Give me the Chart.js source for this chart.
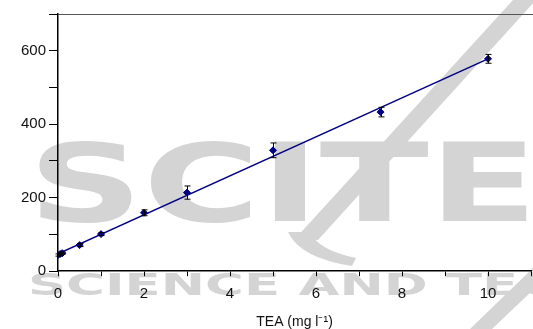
<!DOCTYPE html>
<html lang="en">
<head>
  <meta charset="UTF-8" />
  <title>TEA calibration</title>
  <script src="https://cdn.jsdelivr.net/npm/chart.js"></script>
  <style>
    body {
      margin: 0;
      overflow: hidden;
      background: #fff;
    }
  </style>
</head>
<body>
  <canvas id="teaChart" width="540" height="329"></canvas>

  <script>
    // dati
    const teaConc = [0, 0.05, 0.1, 0.5, 1, 2, 3, 5, 7.5, 10];
    const signal = [44, 47, 49, 71, 101, 159, 214, 329, 433, 578];
    const signalErr = [3, 3, 3, 4, 4, 8, 18, 20, 13, 12];
    const fitX = [0, 10];
    const fitY = [47, 578];
    const xTickLabels = [0, 2, 4, 6, 8, 10];
    const yTickLabels = [0, 200, 400, 600];

    const navy = "#000080";
    const wmGray = "#d4d4d4";

    // testo allargato per il filigrana
    function stretchText(c, text, x, base, cap, width, weight) {
      const size = cap / 0.73;
      c.font = weight + " " + size + "px 'DejaVu Sans'";
      const w = c.measureText(text).width;
      c.save();
      c.translate(x, base);
      c.scale(width / w, 1);
      c.fillText(text, 0, 0);
      c.restore();
    }

    const watermark = {
      id: "watermark",
      beforeDraw(chart) {
        const c = chart.ctx;
        c.save();
        c.fillStyle = wmGray;
        c.textBaseline = "alphabetic";
        stretchText(c, "SCITE", 28, 221, 79, 510, "bold");
        stretchText(c, "SCIENCE AND TECHNOLOGY", 28, 295, 22, 820, "bold");
        // barra obliqua
        c.beginPath();
        c.moveTo(513, 0);
        c.lineTo(536, 0);
        c.lineTo(318, 240);
        c.lineTo(294, 240);
        c.closePath();
        c.fill();
        // curva in basso
        c.beginPath();
        c.moveTo(288, 232);
        c.quadraticCurveTo(300, 258, 352, 266);
        c.lineTo(356, 258);
        c.quadraticCurveTo(318, 250, 310, 232);
        c.closePath();
        c.fill();
        // diagonale in basso a destra
        c.beginPath();
        c.moveTo(470, 329);
        c.lineTo(492, 329);
        c.lineTo(533, 290);
        c.lineTo(533, 268);
        c.closePath();
        c.fill();
        c.restore();
      },
    };

    const errorBars = {
      id: "errorBars",
      afterDatasetsDraw(chart) {
        const c = chart.ctx;
        const xs = chart.scales.x;
        const ys = chart.scales.y;
        c.save();
        c.strokeStyle = "#000";
        c.lineWidth = 1;
        for (let i = 0; i < teaConc.length; i++) {
          const px = Math.round(xs.getPixelForValue(teaConc[i])) + 0.5;
          const top = ys.getPixelForValue(signal[i] + signalErr[i]);
          const bot = ys.getPixelForValue(signal[i] - signalErr[i]);
          c.beginPath();
          c.moveTo(px, top);
          c.lineTo(px, bot);
          c.moveTo(px - 3, top);
          c.lineTo(px + 3, top);
          c.moveTo(px - 3, bot);
          c.lineTo(px + 3, bot);
          c.stroke();
        }
        // bordo superiore
        const a = chart.chartArea;
        c.strokeStyle = "#555";
        c.beginPath();
        c.moveTo(a.left, a.top + 0.5);
        c.lineTo(a.right + 10, a.top + 0.5);
        c.stroke();
        c.restore();
      },
    };

    const ctx = document.getElementById("teaChart").getContext("2d");
    const chart = new Chart(ctx, {
      type: "scatter",
      data: {
        datasets: [
          {
            label: "fit",
            type: "line",
            data: fitX.map((x, i) => ({ x: x, y: fitY[i] })),
            borderColor: navy,
            borderWidth: 1.5,
            pointRadius: 0,
            order: 2,
          },
          {
            label: "TEA",
            data: teaConc.map((x, i) => ({ x: x, y: signal[i] })),
            backgroundColor: navy,
            borderColor: navy,
            pointStyle: "rectRot",
            pointRadius: 3.5,
            order: 1,
          },
        ],
      },
      options: {
        responsive: false,
        animation: false,
        layout: { padding: { top: 14, right: 0, left: 18, bottom: -2 } },
        plugins: {
          legend: { display: false },
          tooltip: { enabled: false },
        },
        scales: {
          x: {
            type: "linear",
            min: 0,
            max: 11,
            grid: { drawOnChartArea: false, tickLength: 5, color: "#000" },
            border: { color: "#000", width: 1.5 },
            ticks: {
              stepSize: 1,
              includeBounds: false,
              color: "#111",
              padding: 9,
              font: { family: "'Liberation Sans'", size: 15 },
              maxRotation: 0,
              autoSkip: false,
              callback: (v) => (xTickLabels.includes(v) ? v : ""),
            },
            title: {
              display: true,
              text: "TEA (mg l\u207B\u00B9)",
              color: "#111",
              font: { family: "'Liberation Sans'", size: 14 },
              padding: { top: 2, bottom: 0 },
            },
          },
          y: {
            min: 0,
            max: 700,
            grid: { drawOnChartArea: false, tickLength: 9, color: "#000" },
            border: { color: "#000", width: 1.5 },
            ticks: {
              stepSize: 100,
              color: "#111",
              padding: 3,
              font: { family: "'Liberation Sans'", size: 15 },
              autoSkip: false,
              callback: (v) => (yTickLabels.includes(v) ? v : ""),
            },
          },
        },
      },
      plugins: [watermark, errorBars],
    });
  </script>
</body>
</html>
